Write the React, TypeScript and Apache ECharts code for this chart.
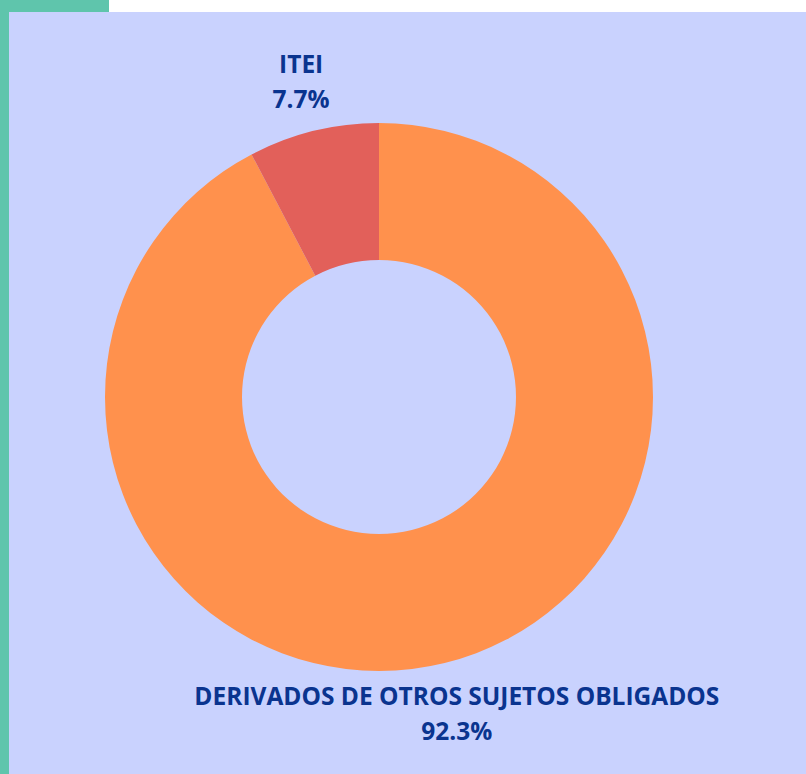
import React, { useEffect, useRef } from "react";
import * as echarts from "echarts";

const categories = ["DERIVADOS DE OTROS SUJETOS OBLIGADOS", "ITEI"];
const percentValues = [92.3, 7.7];
const sliceColors = ["#FF914D", "#E2605A"];

const CX = 379;
const CY = 397;
const R_IN = 137;
const R_OUT = 274;
const LABEL_R = 325;

export default function App() {
  const ref = useRef<HTMLDivElement>(null);
  useEffect(() => {
    document.body.style.margin = "0";
    const chart = echarts.init(ref.current!, null, { renderer: "svg" });
    const total = percentValues.reduce((a, b) => a + b, 0);
    const midAngles: number[] = [];
    let acc = 0;
    percentValues.forEach((v) => {
      const start = 90 - (acc / total) * 360;
      const end = 90 - ((acc + v) / total) * 360;
      midAngles.push(((start + end) / 2) * Math.PI / 180);
      acc += v;
    });
    chart.setOption({
      animation: false,
      backgroundColor: "#ffffff",
      graphic: [
        { type: "rect", z: -10, shape: { x: 0, y: 0, width: 109, height: 12 }, style: { fill: "#5FC5AC" } },
        { type: "rect", z: -10, shape: { x: 0, y: 0, width: 9, height: 774 }, style: { fill: "#5FC5AC" } },
        { type: "rect", z: -10, shape: { x: 9, y: 12, width: 797, height: 762 }, style: { fill: "#C9D2FE" } },
      ],
      series: [
        {
          type: "pie",
          center: [CX, CY],
          radius: [R_IN, R_OUT],
          startAngle: 90,
          clockwise: true,
          silent: true,
          avoidLabelOverlap: false,
          data: categories.map((c, i) => ({
            name: c,
            value: percentValues[i],
            itemStyle: { color: sliceColors[i] },
          })),
          label: {
            show: true,
            position: "outside",
            formatter: (p: any) => `${p.name}\n${percentValues[p.dataIndex].toFixed(1)}%`,
            fontFamily: "Open Sans",
            fontWeight: "bold",
            fontSize: 24.5,
            lineHeight: 35,
            color: "#0A348F",
            align: "center",
            overflow: "none",
            width: 700,
          },
          labelLine: { show: false },
          labelLayout: (params: any) => {
            const a = midAngles[params.dataIndex];
            return {
              x: CX + LABEL_R * Math.cos(a),
              y: CY - LABEL_R * Math.sin(a),
              align: "center",
              verticalAlign: "middle",
              moveOverlap: null,
            };
          },
        },
      ],
    });
    return () => chart.dispose();
  }, []);
  return (
    <div
      ref={ref}
      style={{ position: "fixed", left: 0, top: 0, width: 806, height: 774 }}
    />
  );
}
